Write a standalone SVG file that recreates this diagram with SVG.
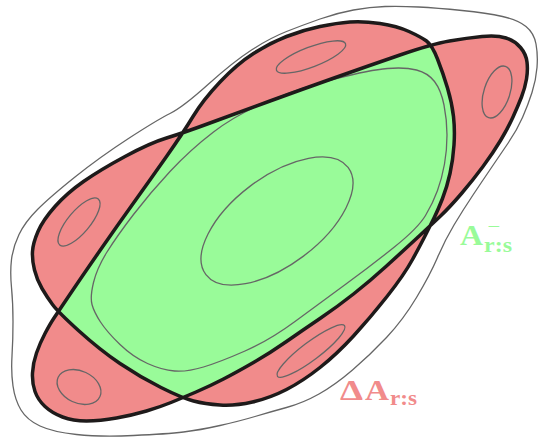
<svg xmlns="http://www.w3.org/2000/svg" width="539" height="439" viewBox="0 0 539 439">
<style>
.thin{fill:none;stroke:#666;stroke-width:1.3}
.lbl{font-family:"Liberation Serif","DejaVu Serif",serif;font-weight:bold}
</style>
<defs>
<path id="star" d="M34.5,270 Q32,260 32.5,251.5 Q33,243 38,231.5 Q43,220 55,206.5 Q67,193 83.5,181.5 Q100,170 125,156.5 Q150,143 166.5,138 Q183,133 210,123 Q237,113 270,101 Q303,89 335.5,77.5 Q368,66 400,55 Q432,44 449.5,41 Q467,38 482,36.5 Q497,35 506,38 Q515,41 520.5,47.5 Q526,54 527,62 Q528,70 526.5,79 Q525,88 521.5,97 Q518,106 513,117 Q508,128 500.5,140.5 Q493,153 483,166.5 Q473,180 461.5,193.5 Q450,207 440,216.5 Q430,226 416.5,238.5 Q403,251 386.5,266 Q370,281 353.5,294 Q337,307 320,318.5 Q303,330 286.5,341.5 Q270,353 253.5,362.5 Q237,372 223.5,379 Q210,386 196,392 Q182,398 171,402.5 Q160,407 146.5,411 Q133,415 116.5,418 Q100,421 86.5,421 Q73,421 62.5,417 Q52,413 45,406.5 Q38,400 35,391.5 Q32,383 32.5,373 Q33,363 36.5,353 Q40,343 45,333.5 Q50,324 54,318 Q58,312 70.5,293.5 Q83,275 100,250.5 Q117,226 133.5,203 Q150,180 166.5,156.5 Q183,133 193,116.5 Q203,100 220,82 Q237,64 253.5,53.5 Q270,43 286.5,36.5 Q303,30 320,26.5 Q337,23 350,22 Q363,21 380,23.5 Q397,26 409,31.5 Q421,37 426.5,41 Q432,45 437.5,59 Q443,73 447.5,88 Q452,103 453.5,116.5 Q455,130 454,145 Q453,160 450,173.5 Q447,187 442.5,198.5 Q438,210 434,218 Q430,226 425.5,235 Q421,244 412.5,259.5 Q404,275 387,296.5 Q370,318 353.5,336 Q337,354 320,367.5 Q303,381 286.5,389.5 Q270,398 252.5,402 Q235,406 220,405 Q205,404 193.5,401 Q182,398 161,387.5 Q140,377 120,363.5 Q100,350 79,331 Q58,312 52.5,304.5 Q47,297 42,288.5 Q37,280 34.5,270 Z"/>
</defs>
<g id="outer-contour">
<path class="thin" d="M251.5,50 Q270,38 286.5,31.5 Q303,25 320,19 Q337,13 353.5,10 Q370,7 385,6.5 Q400,6 418.5,7 Q437,8 462,10.5 Q487,13 502.5,16.5 Q518,20 526,26.5 Q534,33 536,44 Q538,55 537,67.5 Q536,80 532,92.5 Q528,105 522.5,117.5 Q517,130 508.5,142.5 Q500,155 491.5,167.5 Q483,180 473,195 Q463,210 454,225 Q445,240 437.5,257.5 Q430,275 416.5,297.5 Q403,320 386.5,337.5 Q370,355 352.5,370 Q335,385 319,394 Q303,403 286.5,407.5 Q270,412 255,416.5 Q240,421 220,425.5 Q200,430 183.5,432 Q167,434 133.5,435.5 Q100,437 76.5,434.5 Q53,432 40,426 Q27,420 21,410 Q15,400 13,386 Q11,372 12,356 Q13,340 13,321.5 Q13,303 11.5,287.5 Q10,272 11.5,259.5 Q13,247 19,234.5 Q25,222 37.5,209.5 Q50,197 75,177 Q100,157 128.5,138.5 Q157,120 170,113.5 Q183,107 208,84.5 Q233,62 251.5,50 Z"/>
</g>
<g id="regions">
<use href="#star" fill="#99fb99" fill-rule="nonzero"/>
<use href="#star" fill="#f18b8b" fill-rule="evenodd"/>
</g>
<g id="contours">
<path class="thin" d="M92,304.5 Q90,297 93.5,282.5 Q97,268 107,252 Q117,236 133.5,214.5 Q150,193 170,171.5 Q190,150 213.5,132 Q237,114 270,100.5 Q303,87 336.5,78.5 Q370,70 387.5,68.5 Q405,67 416.5,70 Q428,73 434.5,81.5 Q441,90 444,105 Q447,120 447,135 Q447,150 444.5,164 Q442,178 437.5,190.5 Q433,203 425.5,215.5 Q418,228 395,246.5 Q372,265 346,284 Q320,303 295,321.5 Q270,340 245,351 Q220,362 203.5,367 Q187,372 174.5,371 Q162,370 147.5,363.5 Q133,357 120,344.5 Q107,332 100.5,322 Q94,312 92,304.5 Z"/>
<ellipse class="thin" cx="277" cy="221" rx="89" ry="44" transform="rotate(-37 277 221)"/>
<ellipse class="thin" cx="79" cy="222" rx="30" ry="11" transform="rotate(-50 79 222)"/>
<ellipse class="thin" cx="311" cy="57" rx="37" ry="10" transform="rotate(-21 311 57)"/>
<ellipse class="thin" cx="497" cy="92" rx="13" ry="27" transform="rotate(18 497 92)"/>
<ellipse class="thin" cx="79" cy="387" rx="23" ry="16" transform="rotate(25 79 387)"/>
<ellipse class="thin" cx="311" cy="351" rx="42" ry="9" transform="rotate(-37 311 351)"/>
</g>
<g id="outline">
<use href="#star" fill="none" stroke="#1e1a1a" stroke-width="3.5" stroke-linejoin="round"/>
</g>
<g id="label-A-minus">
<text class="lbl" fill="#99fb99"><tspan x="460" y="245" font-size="29" textLength="23" lengthAdjust="spacingAndGlyphs">A</tspan><tspan x="487" y="231" font-size="13" textLength="13" lengthAdjust="spacingAndGlyphs">−</tspan><tspan x="484" y="252" font-size="20" textLength="28" lengthAdjust="spacingAndGlyphs">r:s</tspan></text>
</g>
<g id="label-dA">
<text class="lbl" fill="#f18b8b"><tspan x="340" y="400" font-size="29" textLength="23" lengthAdjust="spacingAndGlyphs">Δ</tspan><tspan x="365" y="400" font-size="29" textLength="24" lengthAdjust="spacingAndGlyphs">A</tspan><tspan x="390" y="405" font-size="20" textLength="27" lengthAdjust="spacingAndGlyphs">r:s</tspan></text>
</g>
</svg>
